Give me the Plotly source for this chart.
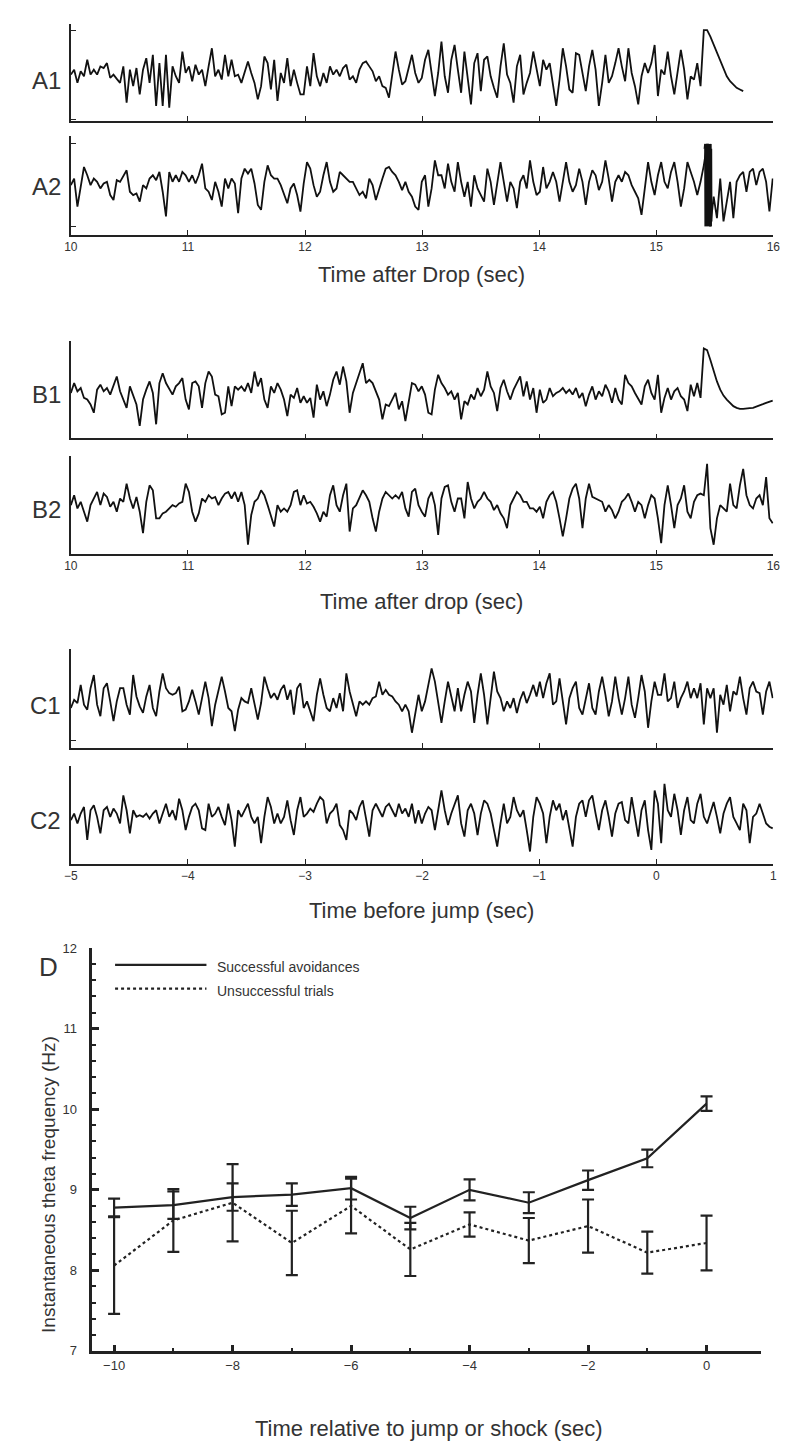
import numpy as np
import plotly.graph_objects as go

W, H = 800, 1448
FS = 35.7  # digitised samples per second of the EEG traces
INK = "#222222"
FONT = "Liberation Sans, Arial, sans-serif"

# ---------------- EEG traces (arbitrary amplitude units) ----------------
a_t0 = 10.0
b_t0 = 10.0
c_t0 = -5.0

a1 = [0, 15, -25, 10, -5, 45, 0, 15, 0, 25, 20, 35, -10, 0, -13, -25, 25, -85, 15, -35, 20, -60, 15, 50, -25,
      60, -95, 35, -95, 60, -100, 25, -5, -25, 70, 5, 25, -20, 30, 0, 15, -35, 25, 80, -5, 15, -15, 60, -5, 45,
      -5, 0, -25, 10, 40, 5, -25, -75, -35, 55, 35, -45, 45, -80, 5, -25, 50, -35, 15, -25, -60,
      -60, 25, -35, 65, -5, -35, 5, -25, 25, 0, 15, -5, 20, 30, -15, -5, -25, 15, 35, 40, 25, 10, -20, -5, -35,
      -40, -70, 5, 70, 15, -30, -20, 25, 60, 5, -25, -10, 45, 75, 5, -65, 5, 100, -5, -55, 45, 90, 15, -55, 70,
      -5, -90, 35, 65, -50, 45, 55, -5, -40, -70, 25, 95, 0, -25, -85, 25, 60, -60, -25, 5, 70, 15,
      -35, 45, 15, 35, -25, -95, -15, 80, 25, -45, -55, 65, 60, 5, -50, 25, 75, 15, -95, -25, 60, -25, -5, 35,
      80, 25, -20, 80, 5, -35, -90, -5, 35, 5, 35, 90, -65, 15, 0, 70, -5, -60, 15, 75, 15, -75, -5, -15, 35,
      -35, 135, 135, 115, 90, 65, 40, 15, -5, -20, -30, -40, -45, -50]

a2 = [0, 20, -65, -10, 55, 30, 0, 20, 10, -10, 5, 10, -30, -45, 15, 10, 30, 45, -20, -30, -25, -50, 0, -10, 20,
      30, 15, 40, -20, -95, 40, 10, 30, 10, 40, 30, 10, 30, 5, 30, 65, -10, -20, -45, 10, -20, -65, 20, -10, 20,
      5, -85, 20, 50, 35, 50, 5, -60, -75, 10, 60, 30, 20, 20, 0, -30, -55, -10, 5, -30, -80,
      5, 70, 50, 0, -35, -20, 30, 70, 10, -20, -10, 40, 30, 20, 10, 10, -10, -30, -20, -40, 20, 0, -45, -10, 20,
      50, 55, 40, 30, 10, -15, 10, -20, -35, -65, -75, 10, 30, -65, -10, 75, 30, 30, -10, 65, 10, -20, 70, 10,
      -35, 10, -65, 30, -10, -30, -50, 50, 10, -60, 0, 70, 10, -50, 10, -10, -70, 10, 30, -10, 75, 10, -30,
      -20, 55, -10, 10, 40, 10, -50, 10, 70, 10, -20, 0, 50, 10, -60, 10, 45, 30, -15, 10, 75, 20, -50, 10, 30,
      10, 40, 30, 0, -20, -40, -90, -10, 70, 10, -30, 30, 70, 10, -10, 40, 70, 10, -65, -10, 70, 40, 10, -30,
      10, 60, 125, -125, -35, -100, 20, -110, -50, 10, -100, 10, 30, 40, -20, 40, 50, 0, 40, 50, 10, -80, 20]

# stimulation artefact in A2 (fast burst)
a2_burst_t0 = 15.41
a2_burst_fs = 450
a2_burst = [110, -120, 125, -125, 120, -115, 125, -125, 118, -122, 125, -125, 120, -118, 125, -125,
            122, -120, 125, -125, 115, -125, 125, -120, 120, -125, 125, -125, 110, -110]

b1 = [0, 30, 5, 15, -15, -20, -35, -60, 10, 25, 5, 15, -5, 20, 50, 5, -20, -45, 20, -5, -35, -100, -20, 10, 35,
      0, -95, 30, 60, 30, 10, -5, 20, 30, 45, -20, -50, 30, 35, 20, -45, 30, 65, 50, -5, -10, -65, -60, 20, -40,
      20, 10, 20, 5, 30, 0, 65, 20, 45, -20, -45, 20, 0, 30, 10, -20, -70, -5, -15, 15, -30,
      -10, -30, -15, -75, 25, -20, 5, -40, -5, 40, 65, 25, 80, 35, -60, 0, 30, 60, 90, 30, 40, 30, 5, -20, -80,
      -35, -40, -20, 0, -50, -25, -85, -20, 30, 25, 5, 20, -5, -60, -65, 10, 55, 30, 15, -5, 5, -20, 0, -80, -25,
      -35, -5, -20, 15, -10, 10, 65, 20, 0, -55, 15, 40, 5, -20, 10, 30, 50, -10, 35, -20, 15, -60,
      10, -30, -20, 15, -10, 0, 5, 15, 0, 10, -5, 15, -15, 0, -40, -5, 20, -20, 5, -10, 25, 5, -30, 15, -20,
      -35, 55, 30, 20, 0, -20, -35, 20, 40, 0, -20, 55, -60, -15, 15, -20, 5, 15, -10, -20, -55, 25, -10, 30,
      -15, 135, 130, 100, 65, 35, 10, -8, -20, -30, -40, -45, -48, -48, -48, -46, -45, -42, -38, -34, -30, -26,
      -23]

b2 = [0, 30, -10, 10, -20, -50, 0, 20, 40, 0, 35, 25, -5, 10, -20, 20, 10, 65, 20, -10, 25, -20, -85, 10, 60,
      45, -40, -40, -25, -20, -10, 0, -5, 5, 10, 65, 40, -20, -50, -25, 20, 10, 30, 20, 25, 0, 20, 35, 40, 20,
      40, 10, 40, 0, -120, -30, 10, 20, 45, 30, 0, -35, -65, 0, -20, -10, -20, 0, 40, 45, 0,
      30, 5, 10, -5, -25, -50, -20, -35, 30, 60, 0, -20, 30, 65, -80, -10, 0, 20, 45, 30, 10, -40, -80, -20, 20,
      40, 30, 20, 30, 20, 40, -10, -35, 40, 50, 0, -20, -35, 20, 40, 0, -90, 20, 55, 60, 10, -20, 20, 20, -40,
      70, 20, -10, 10, 20, 40, 20, 10, -15, 0, -25, -40, -70, 0, 20, 40, 30, 10, 10, -10, -10, -20,
      -5, -40, 10, 30, 40, 10, -40, -95, -40, 20, 50, 65, 20, -70, 20, 65, 25, 20, 15, 10, -20, 0, -15, -40,
      -20, 10, 20, 35, 10, -20, 10, 0, -40, 0, 30, 20, -40, -115, 0, 60, 0, -70, 0, 20, 60, -20, -40, 10, 30,
      35, 30, 125, -70, -120, -40, 0, -10, -20, 65, 0, -10, 60, 110, 30, 0, -10, 20, 30, 0, 85, -40, -55]

c1 = [-25, 0, -10, 45, -15, -30, 35, 75, -15, -50, 35, 50, -5, -65, -5, 35, 35, -15, -45, 75, 10, -20, -40, 10,
      45, -25, -50, 25, 80, 35, 20, 15, 20, 40, -35, -30, -5, 30, -5, -45, 5, 55, 5, -80, -15, 25, 70, 25, -25,
      -35, -95, -30, 5, -5, -10, 35, -15, -60, -10, 70, 35, 5, 20, 0, 30, 45, 0, 30, -45, 35, 50,
      -25, -5, -35, -65, 15, 65, 15, -25, -35, 5, -25, 20, -35, 80, 25, -15, -50, -5, -15, -5, -15, 5, 10, 55,
      15, 30, 15, 10, -5, -15, -35, -15, -35, -100, -35, 15, -35, -5, 45, 95, 55, -15, -70, -5, 55, 10, -35, 35,
      -35, 15, 55, 25, -70, 15, 80, 15, -75, 5, 85, 25, 5, -35, -5, -25, 5, -40, 0, 25, -10, 15, 45, 10,
      55, 5, 50, 80, -15, -5, 65, -5, -75, 5, 35, 55, -25, -45, 5, 50, -25, -45, 25, 70, 15, -50, -5, 70, 5,
      -45, 5, 70, -15, -55, 5, 75, 25, -85, -5, 55, 15, 15, 80, -5, 5, 55, -25, 5, 25, 55, 5, 35, 5, 50, -75,
      35, 5, 35, -100, 15, -15, 45, -35, 25, 15, 70, 5, -45, 35, 55, 25, 20, -45, 25, 55, 5]

c2 = [-15, 5, -25, 5, 25, -75, 15, 30, -5, -55, 15, 25, -5, 20, 5, -25, 60, 15, -55, 15, -5, 0, -5, 5, -10, 5,
      15, -25, 5, 35, -5, 15, -15, 50, 15, -45, -5, 25, 35, 15, -40, -45, 35, -5, 5, 25, -5, -30, 35, -15, -95,
      15, -5, 15, 35, -5, -25, -5, -85, -5, 55, 25, -25, 5, -25, -5, 45, -15, -60, 15, 55,
      -5, 5, 20, 10, 35, 55, 45, -25, 5, 15, 35, -30, -45, -75, 15, 5, -15, 25, 45, -5, -65, 15, 35, 15, -5,
      25, 35, 15, -5, 35, 5, 20, -5, 35, -25, 15, -25, 5, 25, 15, -45, 15, 75, 15, -30, 5, 35, 60, -25, -65,
      15, 35, 5, -60, 5, 45, 35, 5, -45, -95, -25, 35, -25, -5, 55, 15, -5, 15, -45, -110, -5, 55,
      35, 5, -85, -5, 45, 15, 35, -15, 15, -45, -95, -5, 35, 45, -5, 45, 60, 5, -45, 15, 45, -5, -65, 5, 35,
      40, -15, -25, 55, -5, -65, 15, 45, -45, -105, 75, 35, -85, 95, 15, -5, 65, 15, -60, 15, 55, -15, -25, 35,
      65, -5, -25, 5, 40, -5, -55, 5, 35, 55, -5, -25, -45, 35, 15, -85, -5, 5, 35, 5, -25, -35, -40]

ab_ticks = [10, 11, 12, 13, 14, 15, 16]
c_ticks = [-5, -4, -3, -2, -1, 0, 1]

# ---------------- panel D: instantaneous theta frequency ----------------
d_time = [-10, -9, -8, -7, -6, -5, -4, -3, -2, -1, 0]
succ_mean = [8.78, 8.81, 8.91, 8.94, 9.02, 8.65, 9.00, 8.84, 9.12, 9.39, 10.07]
succ_sem = [0.11, 0.17, 0.17, 0.14, 0.14, 0.14, 0.13, 0.13, 0.12, 0.11, 0.09]
unsucc_mean = [8.06, 8.62, 8.84, 8.34, 8.80, 8.26, 8.57, 8.37, 8.55, 8.22, 8.34]
unsucc_sem = [0.60, 0.39, 0.48, 0.40, 0.34, 0.33, 0.15, 0.28, 0.33, 0.26, 0.34]
d_xticks = [-10, -8, -6, -4, -2, 0]
d_yticks = [7, 8, 9, 10, 11, 12]


def px_x(x):
    return x / W


def px_y(y):
    return 1 - y / H


# label, samples, t0, top px, bottom px, y range, x ticks, tick labels shown, small y ticks
panels = [
    ("A1", a1, a_t0, 17, 115, [-140, 154], ab_ticks, False, [135, -135]),
    ("A2", a2, a_t0, 130, 230, [-150, 150], ab_ticks, True, [125, -125]),
    ("B1", b1, b_t0, 337, 436, [-138, 159], ab_ticks, False, []),
    ("B2", b2, b_t0, 454, 553, [-149, 148], ab_ticks, True, []),
    ("C1", c1, c_t0, 649, 749, [-147, 153], c_ticks, False, [-123]),
    ("C2", c2, c_t0, 767, 866, [-148, 149], c_ticks, True, []),
]
label_y = [74, 181, 392, 508, 706, 822]

fig = go.Figure()
layout = {}
annotations = []

for i, (name, vals, t0, top, bot, yr, xt, lab, yt) in enumerate(panels, start=1):
    t = t0 + np.arange(len(vals)) / FS
    fig.add_trace(go.Scatter(x=t, y=vals, mode="lines", xaxis=f"x{i}", yaxis=f"y{i}",
                             line=dict(color="#111111", width=1.8), showlegend=False, hoverinfo="skip"))
    if name == "A2":
        tb = a2_burst_t0 + np.arange(len(a2_burst)) / a2_burst_fs
        fig.add_trace(go.Scatter(x=tb, y=a2_burst, mode="lines", xaxis=f"x{i}", yaxis=f"y{i}",
                                 line=dict(color="#111111", width=1.3), showlegend=False, hoverinfo="skip"))
    layout[f"xaxis{i}"] = dict(
        domain=[px_x(65), px_x(780)], range=[xt[0], xt[-1]], anchor=f"y{i}",
        showline=True, linecolor=INK, linewidth=1.5, showgrid=False, zeroline=False,
        ticks="inside", ticklen=5, tickwidth=1.3, tickcolor=INK, tickvals=xt,
        showticklabels=lab, tickfont=dict(size=12, color="#333333", family=FONT))
    layout[f"yaxis{i}"] = dict(
        domain=[px_y(bot), px_y(top)], range=yr, anchor=f"x{i}",
        showline=True, linecolor=INK, linewidth=1.5, showgrid=False, zeroline=False,
        ticks="inside" if yt else "", ticklen=5, tickwidth=1.3, tickcolor=INK,
        tickvals=yt, showticklabels=False)
    annotations.append(dict(text=name, x=px_x(57), y=px_y(label_y[i - 1]), xref="paper", yref="paper",
                            showarrow=False, xanchor="right", yanchor="middle",
                            font=dict(size=24, color="#333333", family=FONT)))

for text, y in [("Time after Drop (sec)", 270), ("Time after drop (sec)", 601),
                ("Time before jump (sec)", 913)]:
    annotations.append(dict(text=text, x=px_x(422), y=px_y(y), xref="paper", yref="paper",
                            showarrow=False, xanchor="center", yanchor="middle",
                            font=dict(size=22, color="#333333", family=FONT)))

# panel D
fig.add_trace(go.Scatter(
    x=d_time, y=succ_mean, mode="lines", xaxis="x7", yaxis="y7", showlegend=False,
    line=dict(color=INK, width=2.2),
    error_y=dict(type="data", array=succ_sem, color=INK, thickness=2.2, width=6)))
fig.add_trace(go.Scatter(
    x=d_time, y=unsucc_mean, mode="lines", xaxis="x7", yaxis="y7", showlegend=False,
    line=dict(color=INK, width=2.2, dash="dot"),
    error_y=dict(type="data", array=unsucc_sem, color=INK, thickness=2.2, width=6)))

layout["xaxis7"] = dict(
    domain=[px_x(87), px_x(767)], range=[-10.365, 0.912], anchor="y7",
    showline=True, linecolor=INK, linewidth=3, showgrid=False, zeroline=False,
    ticks="inside", ticklen=6, tickwidth=2.5, tickcolor=INK, tickvals=d_xticks,
    minor=dict(ticks="inside", ticklen=3, tickwidth=2, tickcolor=INK, dtick=1, tick0=0),
    tickfont=dict(size=13, color="#333333", family=FONT))
layout["yaxis7"] = dict(
    domain=[px_y(1358), px_y(951)], range=[7, 12], anchor="x7",
    showline=True, linecolor=INK, linewidth=3, showgrid=False, zeroline=False,
    ticks="inside", ticklen=7, tickwidth=3, tickcolor=INK, tickvals=d_yticks,
    minor=dict(ticks="inside", ticklen=4, tickwidth=2, tickcolor=INK, dtick=0.2, tick0=7),
    ticklabelstandoff=10,
    tickfont=dict(size=13, color="#333333", family=FONT))

annotations += [
    dict(text="D", x=px_x(42), y=px_y(970), xref="paper", yref="paper", showarrow=False,
         xanchor="center", yanchor="middle", font=dict(size=26, color="#333333", family=FONT)),
    dict(text="Instantaneous theta frequency (Hz)", x=px_x(42), y=px_y(1190), xref="paper", yref="paper",
         showarrow=False, textangle=-90, xanchor="center", yanchor="middle",
         font=dict(size=19, color="#333333", family=FONT)),
    dict(text="Time relative to jump or shock (sec)", x=px_x(430), y=px_y(1436), xref="paper", yref="paper",
         showarrow=False, xanchor="center", yanchor="middle",
         font=dict(size=22, color="#333333", family=FONT)),
    dict(text="Successful avoidances", x=px_x(212), y=px_y(970), xref="paper", yref="paper",
         showarrow=False, xanchor="left", yanchor="middle",
         font=dict(size=14, color="#333333", family=FONT)),
    dict(text="Unsuccessful trials", x=px_x(212), y=px_y(994), xref="paper", yref="paper",
         showarrow=False, xanchor="left", yanchor="middle",
         font=dict(size=14, color="#333333", family=FONT)),
]
shapes = [
    dict(type="line", xref="paper", yref="paper", x0=px_x(110), x1=px_x(203), y0=px_y(968), y1=px_y(968),
         line=dict(color=INK, width=2.2)),
    dict(type="line", xref="paper", yref="paper", x0=px_x(110), x1=px_x(203), y0=px_y(992), y1=px_y(992),
         line=dict(color=INK, width=2.2, dash="dot")),
]

fig.update_layout(width=W, height=H, margin=dict(l=0, r=0, t=0, b=0),
                  paper_bgcolor="white", plot_bgcolor="white",
                  annotations=annotations, shapes=shapes, font=dict(family=FONT), **layout)
# page body margin would otherwise shift the 800x1448 figure inside the window
fig.write_html("out.html", config={"displayModeBar": False},
               post_script="document.body.style.margin='0';")
